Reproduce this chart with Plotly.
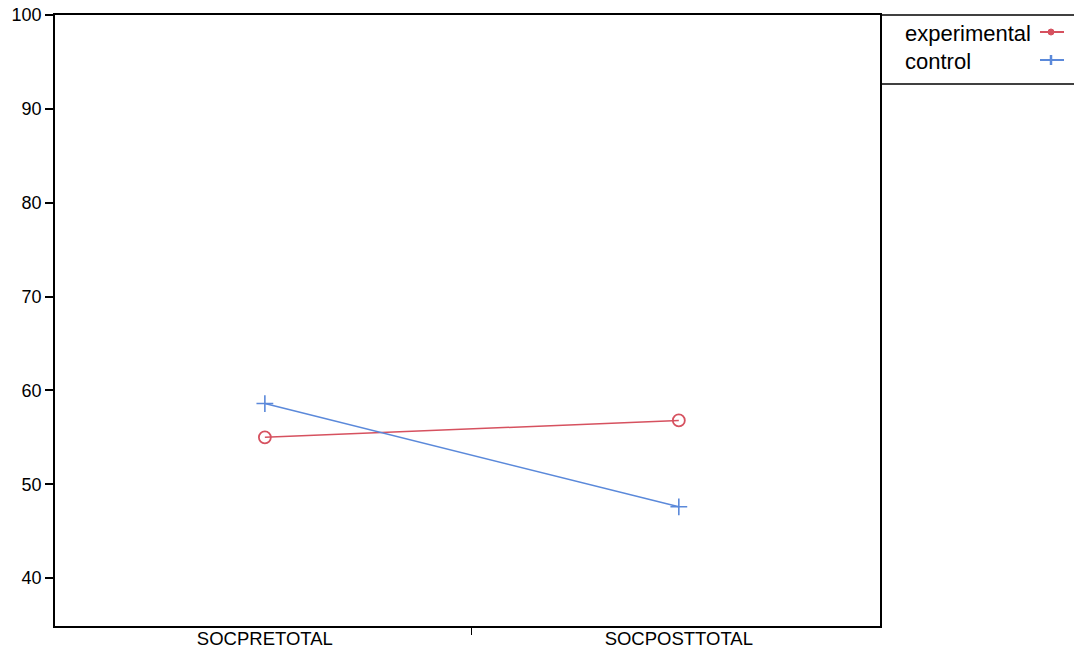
import plotly.graph_objects as go

categories = ["SOCPRETOTAL", "SOCPOSTTOTAL"]
experimental = [55.0, 56.8]
control = [58.6, 47.6]
y_ticks = [40, 50, 60, 70, 80, 90, 100]

RED = "#D6515F"
BLUE = "#5B89DA"
FONT = "Liberation Sans, Arial, Helvetica, sans-serif"

xpos = list(range(len(categories)))

fig = go.Figure()
fig.add_trace(go.Scatter(
    x=xpos, y=experimental, mode="lines+markers", name="experimental",
    line=dict(color=RED, width=1.5),
    marker=dict(symbol="circle-open", size=12, color=RED, line=dict(width=1.8, color=RED)),
    showlegend=False))
fig.add_trace(go.Scatter(
    x=xpos, y=control, mode="lines+markers", name="control",
    line=dict(color=BLUE, width=1.5),
    marker=dict(symbol="cross-thin-open", size=12, color=BLUE, line=dict(width=1.6, color=BLUE)),
    showlegend=False))

fig.update_layout(
    width=1074, height=652,
    margin=dict(l=55, r=194, t=15, b=26),
    paper_bgcolor="white", plot_bgcolor="white",
    font=dict(family=FONT, size=16, color="black"),
    xaxis=dict(
        range=[-0.507, 1.486], tickvals=xpos, ticktext=categories,
        ticks="", showgrid=False, zeroline=False, automargin=False,
        showline=True, linecolor="black", linewidth=1.5, mirror=True,
        tickfont=dict(size=18.5), ticklabelstandoff=-5,
        minor=dict(tickmode="array", tickvals=[0.5], ticks="outside", ticklen=7,
                   tickcolor="black", tickwidth=1, showgrid=False),
    ),
    yaxis=dict(
        range=[34.9, 100], tickvals=y_ticks, ticks="outside", ticklen=8,
        tickwidth=1.5, tickcolor="black", showgrid=False, zeroline=False, automargin=False,
        showline=True, linecolor="black", linewidth=1.5, mirror=True,
        tickfont=dict(size=18),
    ),
)

# legend box
fig.add_shape(type="line", xref="paper", yref="paper", x0=1.0, x1=1.3, y0=1.0, y1=1.0,
              line=dict(color="black", width=1.5))
fig.add_shape(type="line", xref="paper", yref="paper", x0=1.0, x1=1.3,
              y0=1 - (84 - 15) / 611, y1=1 - (84 - 15) / 611,
              line=dict(color="black", width=1.5))

def px_to_paper_x(px):
    return (px - 55) / 825

def px_to_paper_y(py):
    return 1 - (py - 15) / 611

legend_items = [("experimental", RED, "circle", 34), ("control", BLUE, "cross", 62)]
for name, col, sym, py in legend_items:
    fig.add_annotation(text=name, xref="paper", yref="paper",
                       x=px_to_paper_x(903), y=px_to_paper_y(py), xanchor="left", yanchor="middle",
                       showarrow=False, font=dict(size=22, family=FONT, color="black"))
    cy = py - 2
    fig.add_shape(type="line", xref="paper", yref="paper",
                  x0=px_to_paper_x(1040), x1=px_to_paper_x(1064),
                  y0=px_to_paper_y(cy), y1=px_to_paper_y(cy),
                  line=dict(color=col, width=2))
    cx = 1051
    if sym == "circle":
        fig.add_shape(type="circle", xref="paper", yref="paper",
                      x0=px_to_paper_x(cx - 3), x1=px_to_paper_x(cx + 3),
                      y0=px_to_paper_y(cy - 3), y1=px_to_paper_y(cy + 3),
                      fillcolor=col, line=dict(color=col, width=1))
    else:
        fig.add_shape(type="line", xref="paper", yref="paper",
                      x0=px_to_paper_x(cx), x1=px_to_paper_x(cx),
                      y0=px_to_paper_y(cy - 5), y1=px_to_paper_y(cy + 5),
                      line=dict(color=col, width=2.5))

fig.write_html("out.html", config={"displayModeBar": False},
               post_script="document.body.style.margin='0';document.body.style.overflow='hidden';")
